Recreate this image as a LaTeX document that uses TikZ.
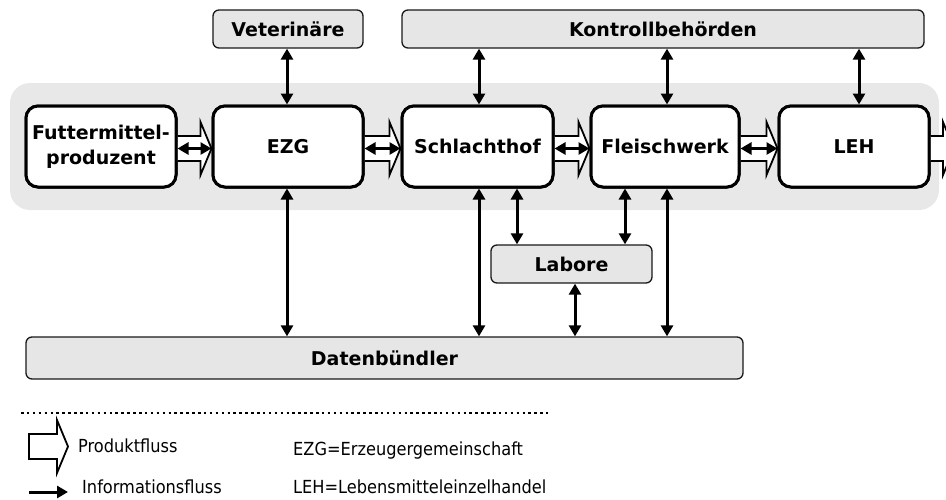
\documentclass[tikz,border=0pt]{standalone}
\usepackage{fontspec}
\setmainfont{DejaVu Sans}
\newfontfamily\legfont[FakeStretch=0.9]{DejaVu Sans}
\usetikzlibrary{arrows.meta,calc}
\definecolor{bandgray}{HTML}{E8E8E8}
\definecolor{boxgray}{HTML}{E6E6E6}
\tikzset{
  mainbox/.style={draw=black, line width=3pt, fill=white, rounded corners=12pt,
    minimum height=81pt, align=center, font=\fontsize{19}{25}\selectfont\bfseries, inner sep=0pt},
  graybox/.style={draw=black!90, line width=1.3pt, fill=boxgray, rounded corners=6pt,
    minimum height=38pt, font=\fontsize{19}{23}\selectfont\bfseries, inner sep=0pt},
  infoarr/.style={line width=3pt, {Triangle[length=11pt,width=12pt]}-{Triangle[length=11pt,width=12pt]}},
  infoone/.style={line width=3pt, -{Triangle[length=11pt,width=12pt]}},
  prodstyle/.style={draw=black, line width=1.8pt, fill=white, line join=miter},
  legtext/.style={anchor=west, inner sep=0pt, font=\legfont\fontsize{18}{20}\selectfont}
}
\newcommand\prodarrow[2]{%
  \path[prodstyle] let \p1=($(#1)+(0,2)$), \p2=(#2) in
    (\x1,\y1+12.5pt) -- (\x2-11pt,\y1+12.5pt) -- (\x2-11pt,\y1+26.5pt) -- (\x2,\y1)
    -- (\x2-11pt,\y1-26.5pt) -- (\x2-11pt,\y1-12.5pt) -- (\x1,\y1-12.5pt);}
\newcommand\infohor[2]{\draw[infoarr] ($(#1)+(0,2)$) -- ($(#2)+(0,2)$);}
\begin{document}
\begin{tikzpicture}[x=1pt,y=-1pt]
\useasboundingbox (0,0) rectangle (946,499);
\clip (0,0) rectangle (946,499);
% band
\fill[bandgray, rounded corners=20pt] (10,83) rectangle (939,210);
% coordinates for product arrows
\coordinate (out) at (954,146.5);
% main boxes (positions)
\path (101,146.5) node[mainbox, minimum width=150pt] (F) {Futtermittel-\\produzent};
\path (288,146.5) node[mainbox, minimum width=150pt] (EZG) {EZG};
\path (477.5,146.5) node[mainbox, minimum width=151pt] (S) {Schlachthof};
\path (665,146.5) node[mainbox, minimum width=148pt] (FW) {Fleischwerk};
\path (854,146.5) node[mainbox, minimum width=150pt] (LEH) {LEH};
% product arrows
\prodarrow{F.east}{EZG.west}
\prodarrow{EZG.east}{S.west}
\prodarrow{S.east}{FW.west}
\prodarrow{FW.east}{LEH.west}
\prodarrow{LEH.east}{out}
% redraw boxes on top
\path (101,146.5) node[mainbox, minimum width=150pt] {Futtermittel-\\produzent};
\path (288,146.5) node[mainbox, minimum width=150pt] {EZG};
\path (477.5,146.5) node[mainbox, minimum width=151pt] {Schlachthof};
\path (665,146.5) node[mainbox, minimum width=148pt] {Fleischwerk};
\path (854,146.5) node[mainbox, minimum width=150pt] {LEH};
% info arrows between main boxes
\infohor{F.east}{EZG.west}
\infohor{EZG.east}{S.west}
\infohor{S.east}{FW.west}
\infohor{FW.east}{LEH.west}
% gray boxes
\node[graybox, minimum width=150pt] (V) at (288,29) {Veterinäre};
\node[graybox, minimum width=522pt] (K) at (663,29) {Kontrollbehörden};
\node[graybox, minimum width=161pt] (Lab) at (571.5,264) {Labore};
\node[graybox, minimum width=717pt, minimum height=42pt] (D) at (384.5,358) {Datenbündler};
% vertical info arrows
\draw[infoarr] (V.south -| 287,0) -- (EZG.north -| 287,0);
\draw[infoarr] (K.south -| 479,0) -- (S.north -| 479,0);
\draw[infoarr] (K.south -| 667,0) -- (FW.north -| 667,0);
\draw[infoarr] (K.south -| 859,0) -- (LEH.north -| 859,0);
\draw[infoarr] (EZG.south -| 287,0) -- (D.north -| 287,0);
\draw[infoarr] (S.south -| 479,0) -- (D.north -| 479,0);
\draw[infoarr] (S.south -| 517,0) -- (Lab.north -| 517,0);
\draw[infoarr] (FW.south -| 625,0) -- (Lab.north -| 625,0);
\draw[infoarr] (FW.south -| 667,0) -- (D.north -| 667,0);
\draw[infoarr] (Lab.south -| 575,0) -- (D.north -| 575,0);
% legend
\coordinate (dotA) at (21,413);
\coordinate (dotB) at (548,413);
\draw[line width=2.5pt, dash pattern=on 2.5pt off 3.4pt] (dotA) -- (dotB);
\coordinate (pa) at (29,446.5);
\coordinate (pb) at (68,446.5);
\path[prodstyle] let \p1=(pa), \p2=(pb) in
  (\x1,\y1+12.5pt) -- (\x2-11pt,\y1+12.5pt) -- (\x2-11pt,\y1+26.5pt) -- (\x2,\y1)
  -- (\x2-11pt,\y1-26.5pt) -- (\x2-11pt,\y1-12.5pt) -- (\x1,\y1-12.5pt) -- cycle;
\node[legtext] (lp) at (78,446) {Produktfluss};
\coordinate (ia) at (29,492);
\coordinate (ib) at (68,492);
\draw[infoone] (ia) -- (ib);
\node[legtext] (li) at (82,487) {Informationsfluss};
\node[legtext] (le) at (293,451) {EZG=Erzeugergemeinschaft};
\node[legtext] (ll) at (293,487) {LEH=Lebensmitteleinzelhandel};
\end{tikzpicture}
\end{document}
